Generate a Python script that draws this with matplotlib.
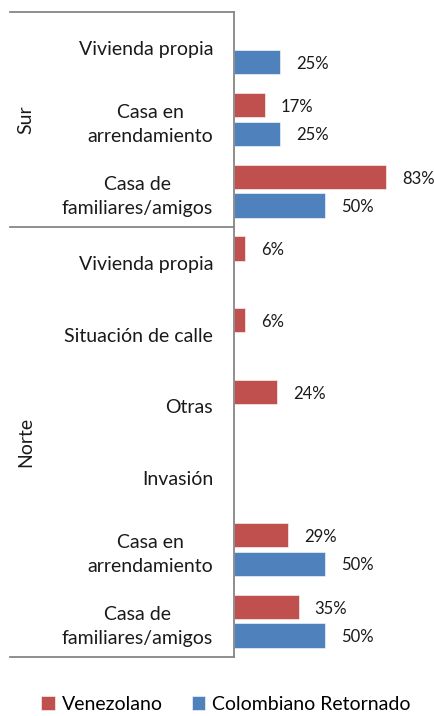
import matplotlib
matplotlib.use("Agg")
import matplotlib.pyplot as plt
import matplotlib.transforms as mtransforms
import numpy as np

plt.rcParams['font.family'] = ['Lato', 'DejaVu Sans']

groups = ["Sur", "Norte"]
categories = [
    ["Vivienda propia", "Casa en\narrendamiento", "Casa de\nfamiliares/amigos"],
    ["Vivienda propia", "Situación de calle", "Otras", "Invasión",
     "Casa en\narrendamiento", "Casa de\nfamiliares/amigos"],
]
venezolano = [
    [None, 16.7, 83.3],
    [5.9, 5.9, 23.5, None, 29.4, 35.3],
]
colombiano = [
    [25.0, 25.0, 50.0],
    [None, None, None, None, 50.0, 50.0],
]
series_names = ["Venezolano", "Colombiano Retornado"]
colors = ["#C0504D", "#4F81BD"]

W, H = 435, 716
fig = plt.figure(figsize=(W / 100, H / 100), dpi=100)
ax = fig.add_axes([234 / W, 1 - 657 / H, 1 - 234 / W, (657 - 12) / H])

labels = [c for g in categories for c in g]
v_all = [v for g in venezolano for v in g]
c_all = [v for g in colombiano for v in g]
n = len(labels)
y = np.arange(n)
h = 0.335
off = 0.2

for vals, sign, col, name in [(v_all, -1, colors[0], series_names[0]),
                              (c_all, 1, colors[1], series_names[1])]:
    ys = [yy + sign * off for yy, v in zip(y, vals) if v is not None]
    vs = [v for v in vals if v is not None]
    bars = ax.barh(ys, vs, height=h, color=col, label=name,
                   edgecolor='white', linewidth=0.4)
    for b, v in zip(bars, vs):
        ax.annotate(f"{v:.0f}%", (b.get_width(), b.get_y() + b.get_height() / 2),
                    xytext=(11.5, -1.2), textcoords='offset points',
                    ha='left', va='center', fontsize=12, color='#1a1a1a')

ax.set_xlim(0, (W - 234) / 1.83)
ax.set_ylim(n - 0.5, -0.5)
ax.set_yticks(y)
ax.set_yticklabels(labels, fontsize=14, color='#1a1a1a', linespacing=1.5)
for t in ax.get_yticklabels():
    t.set_ha('right')
    t.set_multialignment('center')
ax.tick_params(axis='y', length=0, pad=15)
ax.set_xticks([])
for s in ['top', 'right', 'bottom']:
    ax.spines[s].set_visible(False)
ax.spines['left'].set_color('#868686')
ax.spines['left'].set_linewidth(1.3)

# group separators and labels
trans = mtransforms.blended_transform_factory(ax.transAxes, ax.transData)
xl = (10 - 234) / (W - 234)
bounds = [-0.5]
for g in categories:
    bounds.append(bounds[-1] + len(g))
for b in bounds:
    ax.plot([xl, 0], [b, b], transform=trans, color='#868686', lw=1.3,
            clip_on=False)
xg = (26 - 234) / (W - 234)
for gname, b0, b1 in zip(groups, bounds[:-1], bounds[1:]):
    ax.text(xg, (b0 + b1) / 2, gname, transform=trans, rotation=90,
            ha='center', va='center', fontsize=14, color='#1a1a1a')

fig.legend(loc='center', bbox_to_anchor=(226 / W, 1 - 704 / H), ncol=2,
           frameon=False, fontsize=14, handlelength=0.7, handleheight=0.7,
           handletextpad=0.35, columnspacing=1.5, borderpad=0)

fig.savefig("out.png", dpi=100)
